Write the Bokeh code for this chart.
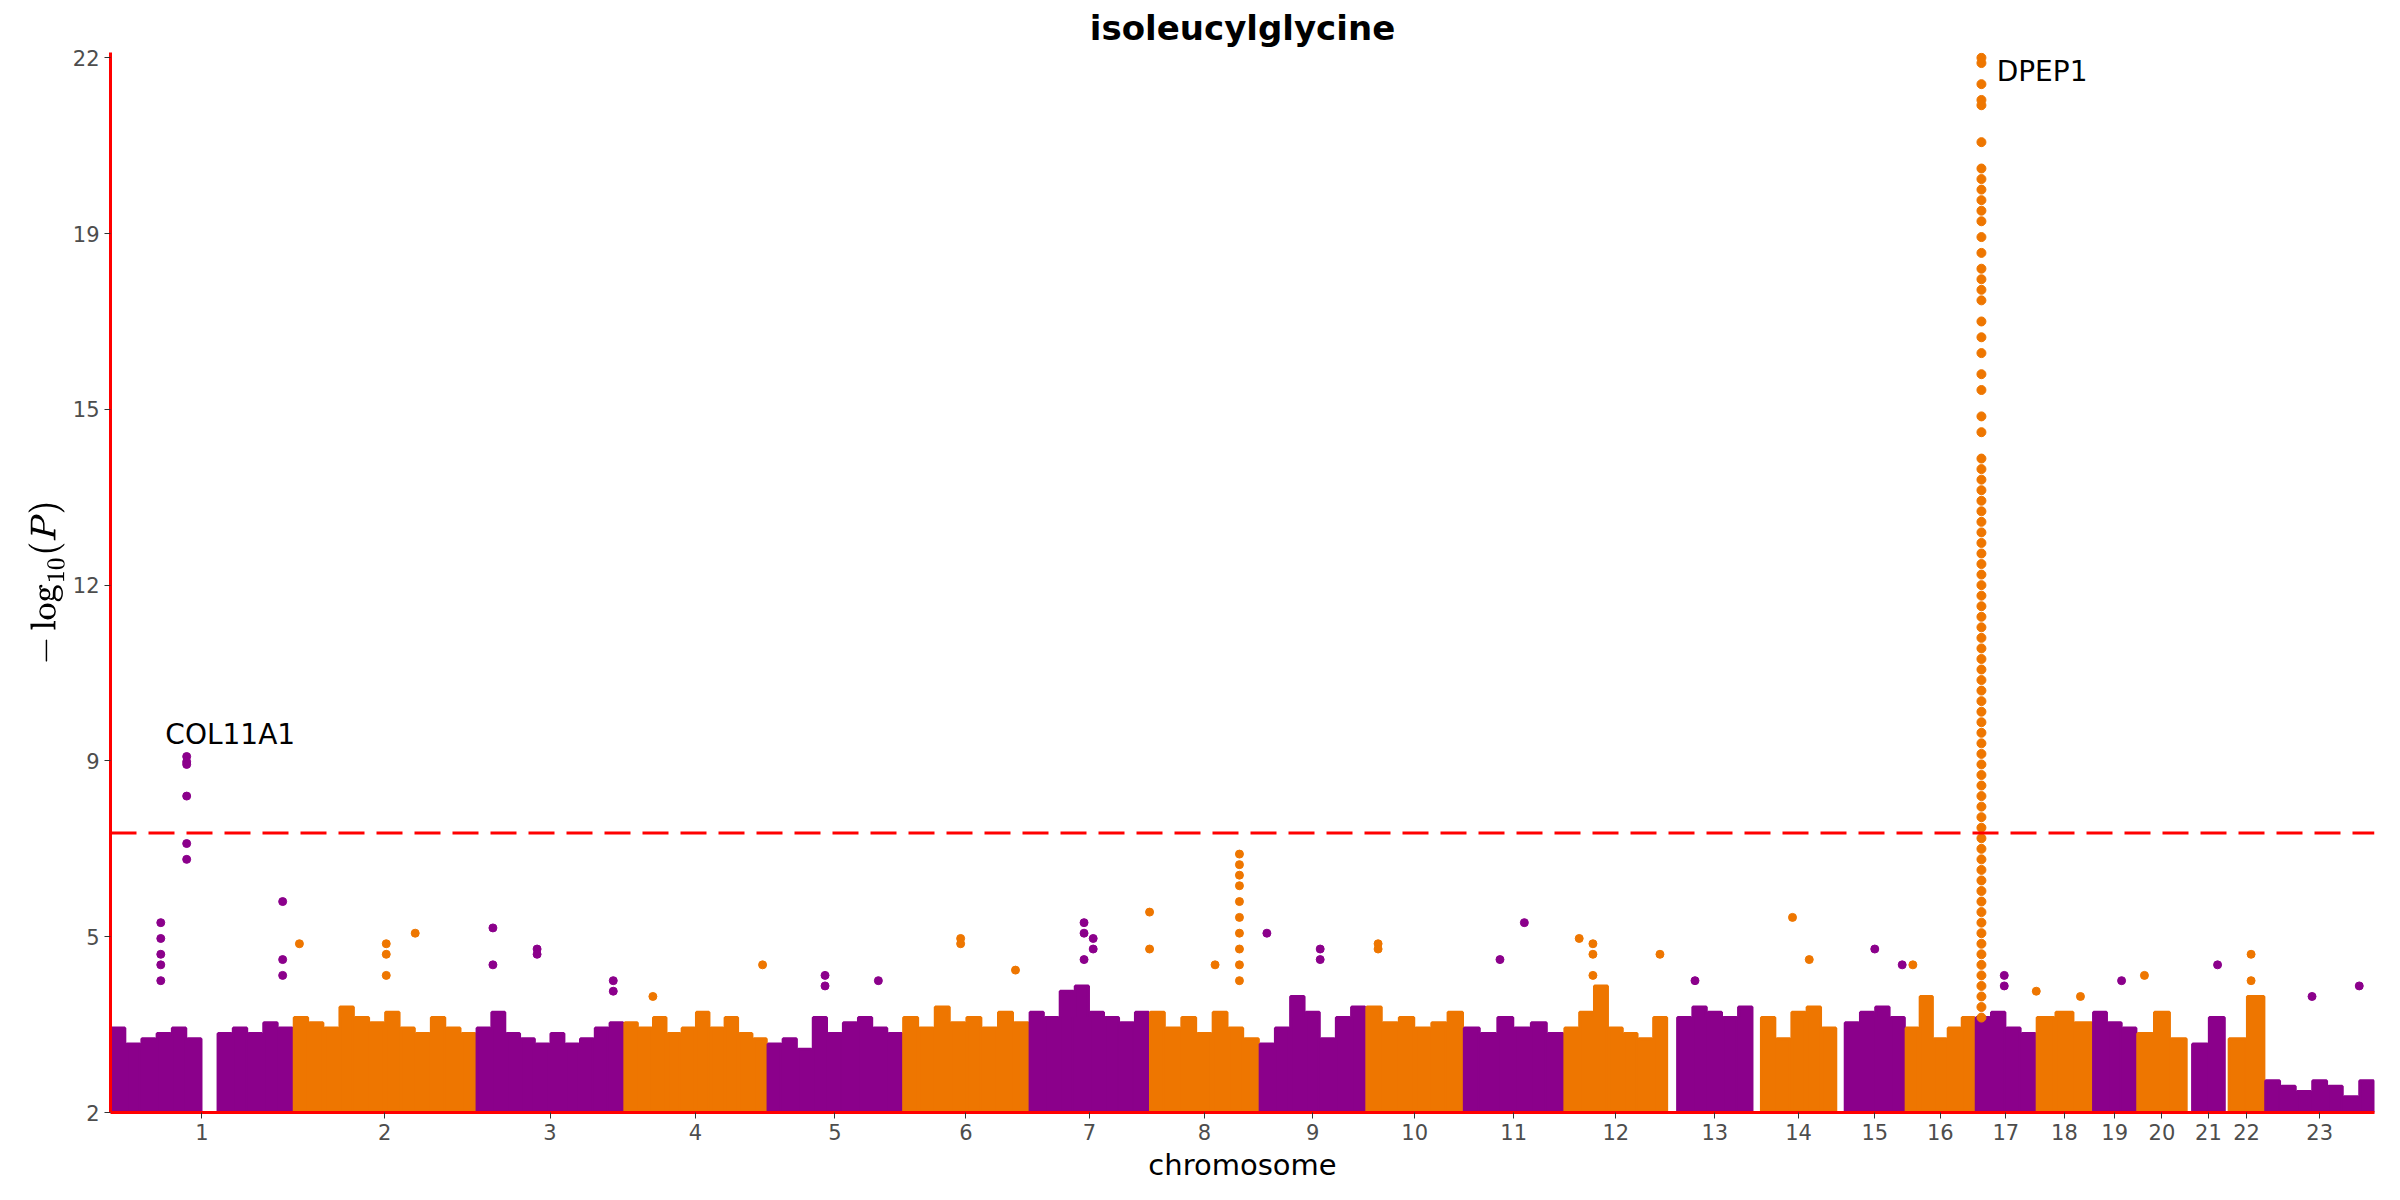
from bokeh.plotting import figure
from bokeh.models import FixedTicker, Span
from bokeh.embed import file_html
from bokeh.resources import INLINE
from bokeh.core.properties import value

# chromosome spans on the cumulative axis (plot units)
chroms = [str(i) for i in range(1, 24)]
chr_start = [0, 120, 240, 337, 431, 520, 603, 682, 754, 824, 888, 954, 1028,
             1083, 1138, 1178, 1224, 1264, 1301, 1330, 1366, 1390, 1414]
chr_end = [120, 240, 337, 431, 520, 603, 682, 754, 824, 888, 954, 1022, 1078,
           1133, 1178, 1224, 1264, 1301, 1330, 1363, 1388, 1414, 1486]

# upper edge of the dense band of SNPs, per chromosome (-log10 P)
band = [
    [3.6, 3.3, 3.4, 3.5, 3.6, 3.4, 2.0, 3.5, 3.6, 3.5, 3.7, 3.6],
    [3.8, 3.7, 3.6, 4.0, 3.8, 3.7, 3.9, 3.6, 3.5, 3.8, 3.6, 3.5],
    [3.6, 3.9, 3.5, 3.4, 3.3, 3.5, 3.3, 3.4, 3.6, 3.7],
    [3.7, 3.6, 3.8, 3.5, 3.6, 3.9, 3.6, 3.8, 3.5, 3.4],
    [3.3, 3.4, 3.2, 3.8, 3.5, 3.7, 3.8, 3.6, 3.5],
    [3.8, 3.6, 4.0, 3.7, 3.8, 3.6, 3.9, 3.7],
    [3.9, 3.8, 4.3, 4.4, 3.9, 3.8, 3.7, 3.9],
    [3.9, 3.6, 3.8, 3.5, 3.9, 3.6, 3.4],
    [3.3, 3.6, 4.2, 3.9, 3.4, 3.8, 4.0],
    [4.0, 3.7, 3.8, 3.6, 3.7, 3.9],
    [3.6, 3.5, 3.8, 3.6, 3.7, 3.5],
    [3.6, 3.9, 4.4, 3.6, 3.5, 3.4, 3.8],
    [3.8, 4.0, 3.9, 3.8, 4.0],
    [3.8, 3.4, 3.9, 4.0, 3.6],
    [3.7, 3.9, 4.0, 3.8],
    [3.6, 4.2, 3.4, 3.6, 3.8],
    [3.8, 3.9, 3.6, 3.5],
    [3.8, 3.9, 3.7],
    [3.9, 3.7, 3.6],
    [3.5, 3.9, 3.4],
    [3.3, 3.8],
    [3.4, 4.2],
    [2.6, 2.5, 2.4, 2.6, 2.5, 2.3, 2.6],
]

# individual SNPs standing out above the band
peak_x = [33, 33, 33, 33, 33, 50, 50, 50, 50, 50, 50, 113, 113, 113,
          124, 181, 181, 181, 200, 251, 251, 280, 280, 330, 330, 356, 428,
          469, 469, 504, 558, 558, 594, 639, 639, 645, 645, 639, 682, 682,
          725, 741, 741, 741, 741, 741, 741, 741, 741, 741, 741, 759, 794,
          794, 832, 832, 912, 928, 964, 973, 973, 973, 1017, 1040, 1104, 1115,
          1158, 1176, 1183, 1243, 1243, 1264, 1293, 1320, 1335, 1383, 1405,
          1405, 1445, 1476]
peak_y = [4.5, 5.0, 5.3, 5.6, 4.8, 8.75, 8.65, 8.6, 8.0, 7.1, 6.8, 6.0, 4.9,
          4.6, 5.2, 5.2, 5.0, 4.6, 5.4, 5.5, 4.8, 5.1, 5.0, 4.5, 4.3, 4.2,
          4.8, 4.6, 4.4, 4.5, 5.3, 5.2, 4.7, 5.6, 5.4, 5.3, 5.1, 4.9, 5.8,
          5.1, 4.8, 6.9, 6.7, 6.5, 6.3, 6.0, 5.7, 5.4, 5.1, 4.8, 4.5, 5.4,
          5.1, 4.9, 5.2, 5.1, 4.9, 5.6, 5.3, 5.2, 5.0, 4.6, 5.0, 4.5, 5.7,
          4.9, 5.1, 4.8, 4.8, 4.6, 4.4, 4.3, 4.2, 4.5, 4.6, 4.8, 5.0, 4.5,
          4.2, 4.4]

# DPEP1 hit column on chromosome 16
dpep1_x = 1228
dpep1_y = [22.0, 21.9, 21.5, 21.2, 21.1, 20.4, 19.9, 19.7, 19.5, 19.3, 19.1,
           18.9, 18.6, 18.3, 18.0, 17.8, 17.6, 17.4, 17.0, 16.7, 16.4, 16.0,
           15.7, 15.2, 14.9, 14.4, 14.2, 14.0, 13.8, 13.6, 13.4, 13.2, 13.0,
           12.8, 12.6, 12.4, 12.2, 12.0, 11.8, 11.6, 11.4, 11.2, 11.0, 10.8,
           10.6, 10.4, 10.2, 10.0, 9.8, 9.6, 9.4, 9.2, 9.0, 8.8, 8.6, 8.4,
           8.2, 8.0, 7.8, 7.6, 7.4, 7.2, 7.0, 6.8, 6.6, 6.4, 6.2, 6.0, 5.8,
           5.6, 5.4, 5.2, 5.0, 4.8, 4.6, 4.4, 4.2, 4.0, 3.8]

threshold = 7.3
y_ticks = [2, 5.333, 8.667, 12, 15.333, 18.667, 22]

PURPLE = "#8B008B"
ORANGE = "#EE7600"

def chr_color(i):
    return PURPLE if i % 2 == 0 else ORANGE

p = figure(width=2384, height=1184, output_backend="svg", toolbar_location=None,
           x_range=(0, 1486), y_range=(2, 22.1), title="isoleucylglycine",
           min_border_left=110, min_border_bottom=70, min_border_right=10,
           min_border_top=18)
p.title.align = "center"
p.title.text_font = "DejaVu Sans"
p.title.text_font_size = "34px"
p.title.text_font_style = "bold"
p.title.text_color = "black"

# dense band
bl, br, bt, bc = [], [], [], []
for i, vals in enumerate(band):
    w = (chr_end[i] - chr_start[i]) / len(vals)
    for j, v in enumerate(vals):
        bl.append(chr_start[i] + j * w + 0.6)
        br.append(chr_start[i] + (j + 1) * w - 0.6)
        bt.append(v)
        bc.append(chr_color(i))
p.quad(left=bl, right=br, bottom=2, top=bt, fill_color=bc, line_color=bc, line_width=3)

# standout SNPs
pc = []
for x in peak_x:
    i = max(k for k in range(len(chr_start)) if chr_start[k] <= x)
    pc.append(chr_color(i))
p.scatter(peak_x, peak_y, size=8, color=pc)
p.scatter([dpep1_x] * len(dpep1_y), dpep1_y, size=9, color=ORANGE)

p.add_layout(Span(location=threshold, dimension="width", line_color="red",
                  line_width=3, line_dash="26 12"))

p.text([36], [8.85], text=["COL11A1"], text_font=value("DejaVu Sans"),
       text_font_size="28px", text_baseline="bottom", text_color="black")
p.text([dpep1_x + 10], [22.05], text=["DPEP1"], text_font=value("DejaVu Sans"),
       text_font_size="28px", text_baseline="top", text_color="black")

p.xaxis.ticker = FixedTicker(ticks=[(s + e) / 2 for s, e in zip(chr_start, chr_end)])
p.xaxis.major_label_overrides = {(s + e) / 2: c for s, e, c in zip(chr_start, chr_end, chroms)}
p.yaxis.ticker = FixedTicker(ticks=y_ticks)
p.yaxis.major_label_overrides = {t: str(round(t)) for t in y_ticks}
p.xaxis.axis_label = "chromosome"
p.yaxis.axis_label = r"$$-\log_{10}(P)$$"
for ax in (p.xaxis, p.yaxis):
    ax.axis_line_color = "red"
    ax.axis_line_width = 3
    ax.major_tick_line_color = "#333333"
    ax.minor_tick_line_color = None
    ax.major_tick_out = 6
    ax.major_tick_in = 0
    ax.major_label_text_font = "DejaVu Sans"
    ax.major_label_text_font_size = "21px"
    ax.major_label_text_color = "#4d4d4d"
    ax.axis_label_text_font = "DejaVu Sans"
    ax.axis_label_text_font_size = "29px"
    ax.axis_label_text_font_style = "normal"
    ax.axis_label_text_color = "black"
p.grid.grid_line_color = None
p.outline_line_color = None

open("out.html", "w").write(file_html(p, INLINE))
